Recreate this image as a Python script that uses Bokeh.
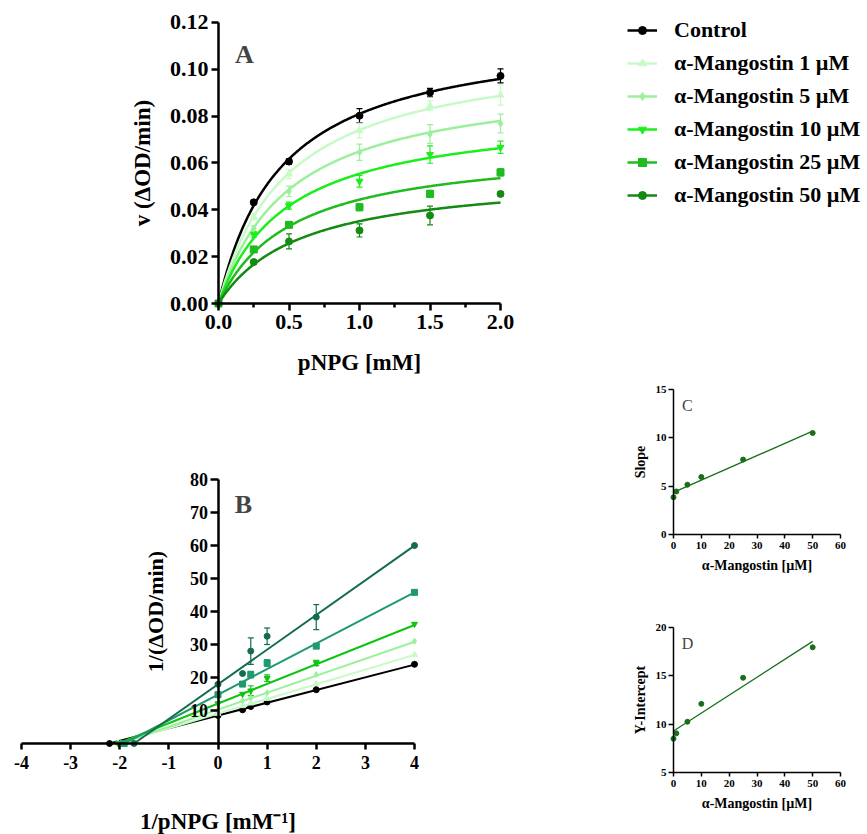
import numpy as np
from bokeh.plotting import figure
from bokeh.models import (Range1d, LinearAxis, FixedTicker, ColumnDataSource, Whisker,
                          TeeHead, Legend, LegendItem, Label, PrintfTickFormatter)
from bokeh.layouts import row, column
from bokeh.embed import file_html
from bokeh.resources import INLINE

# ---------------- data ----------------
series = ["Control", "α-Mangostin 1 µM", "α-Mangostin 5 µM",
          "α-Mangostin 10 µM", "α-Mangostin 25 µM", "α-Mangostin 50 µM"]
conc = [0, 1, 5, 10, 25, 50]

# Panel A: Michaelis-Menten
substrate = [0, 0.25, 0.5, 1.0, 1.5, 2.0]
v_control = [0, 0.0432, 0.0606, 0.0802, 0.0901, 0.0972]
v_1 = [0, 0.0370, 0.0553, 0.0738, 0.0845, 0.0890]
v_5 = [0, 0.0320, 0.0479, 0.0646, 0.0724, 0.0769]
v_10 = [0, 0.0295, 0.0418, 0.0522, 0.0636, 0.0667]
v_25 = [0, 0.0231, 0.0336, 0.0411, 0.0468, 0.0560]
v_50 = [0, 0.0177, 0.0265, 0.0312, 0.0376, 0.0468]
err_control = [0, 0.0010, 0.0012, 0.0030, 0.0018, 0.0030]
err_1 = [0, 0.0012, 0.0020, 0.0032, 0.0020, 0.0043]
err_5 = [0, 0.0012, 0.0022, 0.0035, 0.0040, 0.0040]
err_10 = [0, 0.0012, 0.0015, 0.0025, 0.0037, 0.0026]
err_25 = [0, 0.0010, 0.0012, 0.0015, 0.0015, 0.0015]
err_50 = [0, 0.0010, 0.0032, 0.0028, 0.0040, 0.0010]

# Panel B: Lineweaver-Burk
inv_s = [4, 2, 1, 0.667, 0.5]
inv_v_control = [24.0, 16.3, 12.6, 11.2, 10.2]
inv_v_1 = [26.9, 18.1, 13.6, 12.2, 11.4]
inv_v_5 = [31.0, 20.9, 15.4, 13.8, 13.0]
inv_v_10 = [36.2, 24.4, 19.8, 16.0, 15.0]
inv_v_25 = [45.8, 29.5, 24.4, 20.9, 18.0]
inv_v_50 = [60.0, 38.3, 32.5, 28.0, 21.2]
inv_err_control = [0, 0, 0, 0, 0]
inv_err_1 = [0, 0, 0, 0, 0]
inv_err_5 = [0, 0, 0, 0, 0]
inv_err_10 = [0, 0.8, 1.0, 1.5, 0]
inv_err_25 = [0, 0.6, 1.0, 1.0, 0]
inv_err_50 = [0, 3.8, 2.5, 4.0, 0]

# Panels C / D: secondary plots
lb_slope = [3.85, 4.45, 5.15, 5.95, 7.75, 10.5]
lb_intercept = [8.5, 9.05, 10.25, 12.1, 14.8, 17.95]

# ---------------- styles ----------------
FONT = "Liberation Serif"
colors_A = ["#000000", "#c8fac8", "#9cef9c", "#1bef1b", "#1fbb1f", "#138a13"]
colors_B = ["#000000", "#c8fac8", "#99f299", "#0fc40f", "#1f9a6e", "#146c4e"]
markers = ["circle", "triangle", "diamond", "inverted_triangle", "square", "circle"]
CD_COLOR = "#196f19"

v_all = [v_control, v_1, v_5, v_10, v_25, v_50]
err_all = [err_control, err_1, err_5, err_10, err_25, err_50]
inv_all = [inv_v_control, inv_v_1, inv_v_5, inv_v_10, inv_v_25, inv_v_50]
inv_err_all = [inv_err_control, inv_err_1, inv_err_5, inv_err_10, inv_err_25, inv_err_50]


def style_axis(ax, tick_size, lw, tick_out, standoff, label_size=None, label_standoff=None):
    ax.axis_line_width = lw
    ax.major_tick_line_width = lw
    ax.minor_tick_line_width = lw
    ax.major_tick_in = 0
    ax.minor_tick_in = 0
    ax.minor_tick_out = 0
    ax.major_tick_out = tick_out
    ax.major_label_text_font = FONT
    ax.major_label_text_font_style = "bold"
    ax.major_label_text_font_size = tick_size
    ax.major_label_text_color = "black"
    ax.major_label_standoff = standoff
    ax.axis_line_color = "black"
    ax.major_tick_line_color = "black"
    ax.minor_tick_line_color = "black"
    if label_size:
        ax.axis_label_text_font = FONT
        ax.axis_label_text_font_style = "bold"
        ax.axis_label_text_font_size = label_size
        ax.axis_label_text_color = "black"
        ax.axis_label_standoff = label_standoff


def span(origin_px, per_unit, size_px, origin_val=0.0, flip=False):
    # data range covering the whole canvas, given where origin_val sits (pixels)
    if not flip:
        return (origin_val - origin_px / per_unit, origin_val + (size_px - origin_px) / per_unit)
    return (origin_val - (size_px - origin_px) / per_unit, origin_val + origin_px / per_unit)


def base_fig(w, h, xr, yr):
    p = figure(width=w, height=h, x_range=Range1d(*xr), y_range=Range1d(*yr),
               x_axis_location=None, y_axis_location=None,
               min_border_left=0, min_border_right=0, min_border_top=0, min_border_bottom=0,
               output_backend="svg", toolbar_location=None)
    p.grid.visible = False
    p.outline_line_color = None
    p.background_fill_color = "white"
    p.border_fill_color = "white"
    return p


# ---------------- Panel A ----------------
pA = base_fig(867, 380, span(218, 141.0, 867), span(303, 2341.7, 380, flip=True))
axA_x = LinearAxis(fixed_location=0, axis_label="pNPG [mM]",
                   ticker=FixedTicker(ticks=[0, 0.5, 1.0, 1.5, 2.0], minor_ticks=[0.25, 0.75, 1.25, 1.75]),
                   formatter=PrintfTickFormatter(format="%.1f"))
axA_x.bounds = (0, 2)
style_axis(axA_x, "22px", 2.5, 7, 4, "23px", 18)
axA_x.minor_tick_out = 4
axA_y = LinearAxis(fixed_location=0, axis_label="v (ΔOD/min)",
                   ticker=FixedTicker(ticks=[0, 0.02, 0.04, 0.06, 0.08, 0.10, 0.12]),
                   formatter=PrintfTickFormatter(format="%.2f"))
axA_y.bounds = (0, 0.12)
style_axis(axA_y, "22px", 2.5, 7, 3, "23px", 12)
pA.add_layout(axA_x, "below")
pA.add_layout(axA_y, "left")

s_fit = np.linspace(0, 2, 300)
items = []
for i, name in enumerate(series):
    vmax = 1.0 / lb_intercept[i]
    km = lb_slope[i] / lb_intercept[i]
    c = colors_A[i]
    lr = pA.line(s_fit, vmax * s_fit / (km + s_fit), line_color=c, line_width=2.5)
    sv = np.array(v_all[i]); se = np.array(err_all[i]); sx = np.array(substrate)
    mask = se > 0
    wsrc = ColumnDataSource(dict(x=sx[mask], upper=(sv + se)[mask], lower=(sv - se)[mask]))
    pA.add_layout(Whisker(source=wsrc, base="x", upper="upper", lower="lower",
                          line_color=c, line_width=1.2,
                          upper_head=TeeHead(size=6, line_color=c, line_width=1.2),
                          lower_head=TeeHead(size=6, line_color=c, line_width=1.2)))
    sr = pA.scatter(substrate, v_all[i], marker=markers[i], size=7, fill_color=c, line_color=c)
    items.append(LegendItem(label=name, renderers=[lr, sr]))

legA = Legend(items=items, location=(627, 172), glyph_width=30, glyph_height=20,
              label_height=20, spacing=7, padding=0, margin=0, label_standoff=17,
              border_line_color=None, background_fill_alpha=0,
              label_text_font=FONT, label_text_font_style="bold",
              label_text_font_size="22px", label_text_color="black")
pA.add_layout(legA)
pA.add_layout(Label(x=0.184, y=0.1065, text="A", text_font=FONT, text_font_style="bold",
                    text_font_size="26px", text_align="center", text_baseline="middle"))

# ---------------- Panel B ----------------
pB = base_fig(600, 454, span(217.5, 49.125, 600), span(363, 3.3, 454, flip=True))
axB_x = LinearAxis(fixed_location=0, axis_label="1/pNPG [mM⁻¹]",
                   ticker=FixedTicker(ticks=list(range(-4, 5))),
                   formatter=PrintfTickFormatter(format="%d"))
axB_x.bounds = (-4, 4)
style_axis(axB_x, "18px", 2.5, 6, 6, "23px", 37)
axB_y = LinearAxis(fixed_location=0, axis_label="1/(ΔOD/min)",
                   ticker=FixedTicker(ticks=[10, 20, 30, 40, 50, 60, 70, 80]),
                   formatter=PrintfTickFormatter(format="%d"))
axB_y.bounds = (0, 80)
style_axis(axB_y, "18px", 2.5, 8, 2, "22px", 20)
pB.add_layout(axB_x, "below")
pB.add_layout(axB_y, "left")

for i, name in enumerate(series):
    c = colors_B[i]
    m, b = lb_slope[i], lb_intercept[i]
    x0 = -b / m
    pB.line([x0, 4], [0, b + 4 * m], line_color=c, line_width=2)
    iv = np.array(inv_all[i]); ie = np.array(inv_err_all[i]); ix = np.array(inv_s)
    mask = ie > 0
    if mask.any():
        wsrc = ColumnDataSource(dict(x=ix[mask], upper=(iv + ie)[mask], lower=(iv - ie)[mask]))
        pB.add_layout(Whisker(source=wsrc, base="x", upper="upper", lower="lower",
                              line_color=c, line_width=1.2,
                              upper_head=TeeHead(size=6, line_color=c, line_width=1.2),
                              lower_head=TeeHead(size=6, line_color=c, line_width=1.2)))
    pB.scatter(inv_s, inv_all[i], marker=markers[i], size=6, fill_color=c, line_color=c)
    pB.scatter([0], [b], marker=markers[i], size=6, fill_color=c, line_color=c)
    pB.scatter([x0], [0], marker=markers[i], size=6, fill_color=c, line_color=c)

pB.add_layout(Label(x=0.52, y=72.4, text="B", text_font=FONT, text_font_style="bold",
                    text_font_size="26px", text_align="center", text_baseline="middle"))


# ---------------- Panels C and D ----------------
def secondary(values, yticks, ylabel, letter, h, y0_px, letter_y):
    p = base_fig(267, h, span(73, 167 / 60, 267), span(y0_px, 9.6667, h, origin_val=yticks[0], flip=True))
    ax = LinearAxis(fixed_location=yticks[0], axis_label="α-Mangostin [µM]",
                    ticker=FixedTicker(ticks=[0, 10, 20, 30, 40, 50, 60]))
    ax.bounds = (0, 60)
    style_axis(ax, "11px", 1.5, 4, 3, "14px", 6)
    ay = LinearAxis(fixed_location=0, axis_label=ylabel, ticker=FixedTicker(ticks=yticks))
    ay.bounds = (yticks[0], yticks[-1])
    style_axis(ay, "11px", 1.5, 5, 2, "14px", 5)
    p.add_layout(ax, "below")
    p.add_layout(ay, "left")
    k, q = np.polyfit(conc, values, 1)
    xs = np.array([0, 50])
    p.line(xs, k * xs + q, line_color=CD_COLOR, line_width=1.3)
    p.scatter(conc, values, marker="circle", size=5, fill_color=CD_COLOR, line_color=CD_COLOR)
    p.add_layout(Label(x=5, y=letter_y, text=letter, text_font=FONT, text_font_size="16px",
                       text_align="center", text_baseline="middle"))
    return p


pC = secondary(lb_slope, [0, 5, 10, 15], "Slope", "C", 220, 154, 13.3)
pD = secondary(lb_intercept, [5, 10, 15, 20], "Y-Intercept", "D", 234, 172, 18.3)

layout = column(pA, row(pB, column(pC, pD, spacing=0), spacing=0), spacing=0)
open("out.html", "w").write(file_html(layout, INLINE))
